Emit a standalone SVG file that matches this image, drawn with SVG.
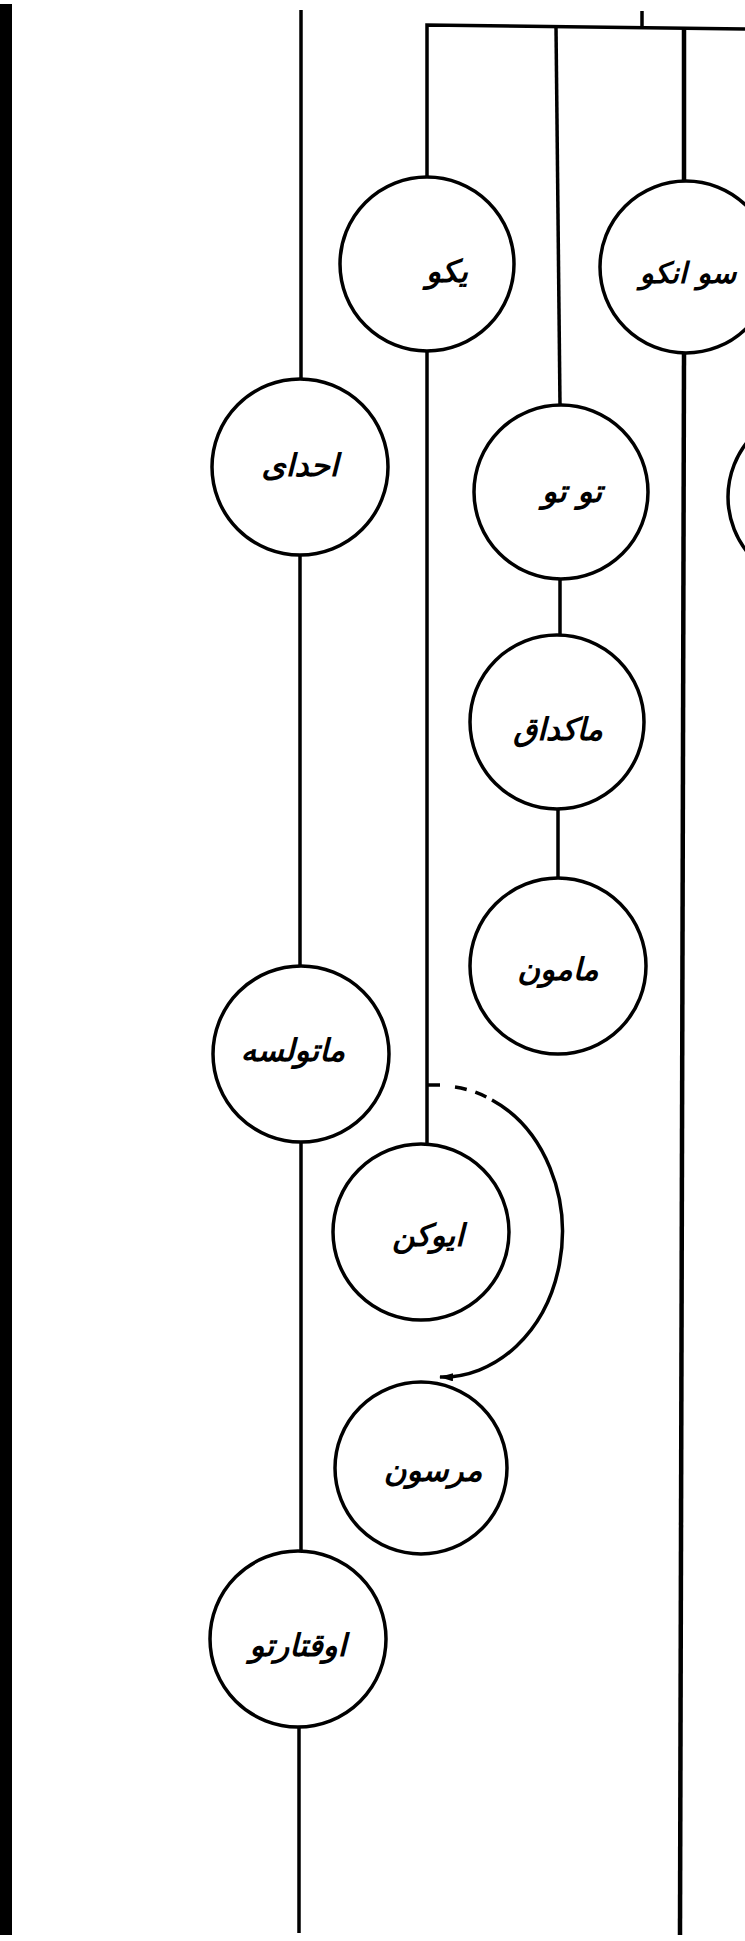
<svg xmlns="http://www.w3.org/2000/svg" width="745" height="1941" viewBox="0 0 745 1941">
<style>
.bg{fill:#fff}
.conn{fill:none;stroke:#000;stroke-width:3.5;stroke-linecap:butt}
.thick{stroke-width:4.5}
.dash{stroke-dasharray:12 9}
.node circle{fill:#fff;stroke:#000;stroke-width:3.5}
.lbl{font-family:"DejaVu Sans",sans-serif;font-size:31px;font-weight:bold;font-style:italic;text-anchor:middle;fill:#000}
</style>
<defs>
<marker id="arr" markerUnits="userSpaceOnUse" markerWidth="14" markerHeight="8" refX="13" refY="4" orient="auto">
<path d="M0,0 L14,4 L0,8 z" fill="#000"/>
</marker>
</defs>
<rect class="bg" x="0" y="0" width="745" height="1941"/>
<rect id="border-bar" x="0" y="4" width="12" height="1931" fill="#000"/>
<g id="connectors">
<path class="conn" d="M427 178 V25 L745 29"/>
<path class="conn" d="M642 11 V26"/>
<path class="conn" d="M556 27 L560 405"/>
<path class="conn thick" d="M684 28 V182"/>
<path class="conn thick" d="M684 353 L680 1935"/>
<path class="conn" d="M301 10 V380"/>
<path class="conn" d="M300 554 V966"/>
<path class="conn" d="M301 1142 V1552"/>
<path class="conn" d="M299 1726 V1933"/>
<path class="conn" d="M427 350 V1144"/>
<path class="conn" d="M427 1085 H440"/>
<path class="conn" d="M560 578 V636"/>
<path class="conn" d="M558 809 V879"/>
<path class="conn dash" d="M455 1087 A120 145 0 0 1 492 1100"/>
<path class="conn" d="M492 1100 A120 145 0 0 1 440 1377" marker-end="url(#arr)"/>
</g>
<g id="node-yiko" class="node"><circle cx="427" cy="264" r="87"/><text class="lbl" x="447" y="282">یکو</text></g>
<g id="node-soanko" class="node"><circle cx="686" cy="267" r="86"/><text class="lbl" x="688" y="283" style="font-size:29px">سو انکو</text></g>
<g id="node-ahadai" class="node"><circle cx="300" cy="467" r="88"/><text class="lbl" x="300" y="476">احدای</text></g>
<g id="node-tutu" class="node"><circle cx="561" cy="492" r="87"/><text class="lbl" x="572" y="502">تو تو</text></g>
<g id="node-edge" class="node"><circle cx="816" cy="497" r="88"/></g>
<g id="node-makdaq" class="node"><circle cx="557" cy="722" r="87"/><text class="lbl" x="558" y="740">ماکداق</text></g>
<g id="node-mamun" class="node"><circle cx="558" cy="966" r="88"/><text class="lbl" x="558" y="980">مامون</text></g>
<g id="node-matulsa" class="node"><circle cx="301" cy="1054" r="88"/><text class="lbl" x="293" y="1061">ماتولسه</text></g>
<g id="node-iyukn" class="node"><circle cx="421" cy="1232" r="88"/><text class="lbl" x="428" y="1246">ایوکن</text></g>
<g id="node-marsun" class="node"><circle cx="421" cy="1468" r="86"/><text class="lbl" x="433" y="1481">مرسون</text></g>
<g id="node-awqtartu" class="node"><circle cx="298" cy="1639" r="88"/><text class="lbl" x="298" y="1656">اوقتارتو</text></g>
</svg>
